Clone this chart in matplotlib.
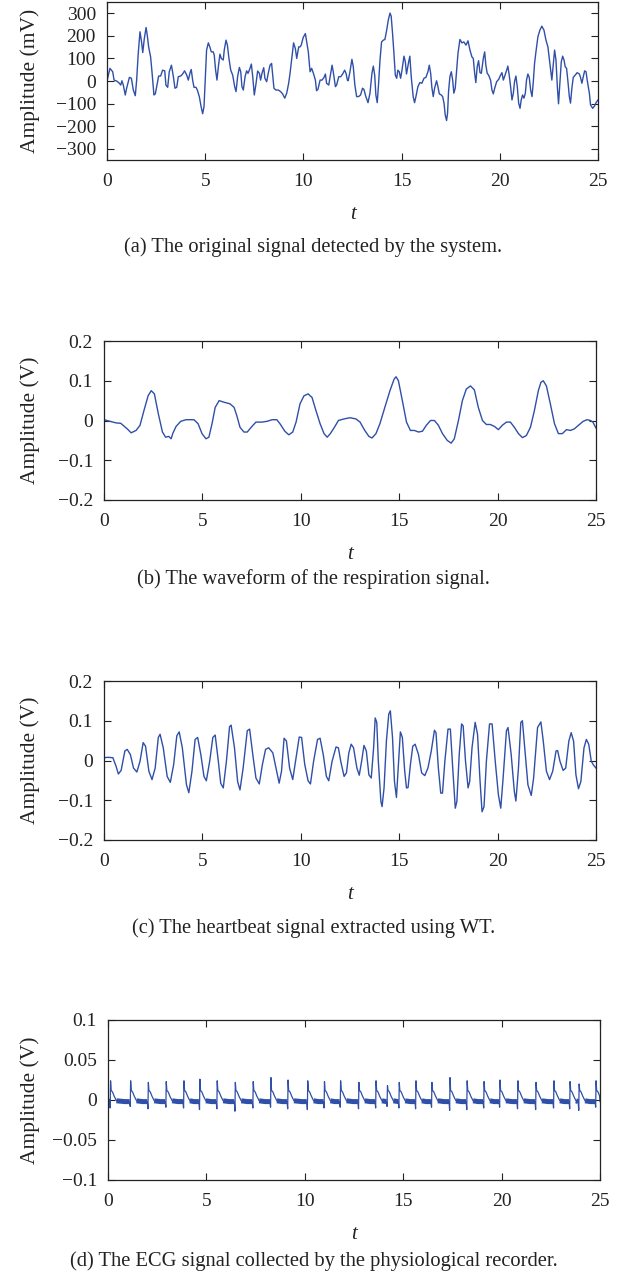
import numpy as np
import matplotlib
matplotlib.use("Agg")
import matplotlib.pyplot as plt

plt.rcParams['font.family'] = ['Liberation Serif', 'DejaVu Serif']

LINE = '#2f4fa8'

# (a) original signal, mV
t_a = [0.00, 0.15, 0.29, 0.36, 0.49, 0.63, 0.70, 0.76, 0.83, 0.93, 1.00, 1.14, 1.24, 1.34, 1.44,
       1.51, 1.59, 1.68, 1.76, 1.82, 1.90, 1.99, 2.05, 2.12, 2.22, 2.29, 2.39, 2.46, 2.56, 2.63,
       2.73, 2.83, 2.94, 3.00, 3.09, 3.17, 3.28, 3.38, 3.46, 3.55, 3.63, 3.75, 3.85, 3.95, 4.06,
       4.14, 4.23, 4.29, 4.36, 4.43, 4.53, 4.60, 4.70, 4.79, 4.87, 4.94, 5.01, 5.07, 5.16, 5.24,
       5.31, 5.41, 5.46, 5.53, 5.60, 5.67, 5.75, 5.82, 5.92, 5.97, 6.06, 6.13, 6.21, 6.30, 6.40,
       6.50, 6.57, 6.65, 6.74, 6.81, 6.87, 6.94, 7.03, 7.11, 7.18, 7.26, 7.35, 7.42, 7.50, 7.59,
       7.67, 7.76, 7.82, 7.89, 7.98, 8.04, 8.13, 8.21, 8.30, 8.38, 8.43, 8.50, 8.60, 8.72, 8.84,
       8.94, 9.05, 9.15, 9.25, 9.32, 9.42, 9.50, 9.59, 9.66, 9.76, 9.83, 9.89, 9.99, 10.10, 10.17,
       10.25, 10.34, 10.42, 10.51, 10.61, 10.67, 10.74, 10.85, 10.95, 11.05, 11.12, 11.18, 11.29,
       11.39, 11.46, 11.52, 11.63, 11.69, 11.80, 11.90, 12.00, 12.10, 12.17, 12.24,
       12.28, 12.37, 12.47, 12.54, 12.62, 12.71, 12.81, 12.91, 13.01, 13.08, 13.18, 13.29, 13.39,
       13.49, 13.56, 13.63, 13.69, 13.76, 13.83, 13.90, 13.98, 14.07, 14.15, 14.24, 14.32, 14.41,
       14.47, 14.54, 14.61, 14.68, 14.75, 14.81, 14.88, 14.95, 15.02, 15.12, 15.19, 15.25, 15.36,
       15.42, 15.49, 15.59, 15.66, 15.73, 15.83, 15.93, 16.03, 16.14, 16.24, 16.34, 16.41, 16.48,
       16.54, 16.61, 16.68, 16.78, 16.85, 16.92, 17.02, 17.09, 17.16, 17.22, 17.29, 17.34, 17.39,
       17.46, 17.53, 17.60, 17.66, 17.73, 17.80, 17.87, 17.97, 18.07, 18.17, 18.28, 18.38, 18.48,
       18.58, 18.65, 18.72, 18.78, 18.85, 18.92, 18.99, 19.06, 19.16, 19.23, 19.29, 19.36, 19.43,
       19.53, 19.60, 19.67, 19.74, 19.84, 19.94, 20.04, 20.11, 20.18, 20.24, 20.35, 20.41, 20.48,
       20.55, 20.62, 20.69, 20.75, 20.82, 20.89, 20.96, 21.03, 21.09, 21.16, 21.23, 21.30, 21.36,
       21.43, 21.50, 21.57, 21.64, 21.70, 21.77, 21.84, 21.94, 22.04, 22.14, 22.25, 22.35, 22.45,
       22.52, 22.59, 22.65, 22.72, 22.79, 22.86, 22.93, 22.99, 23.06, 23.13, 23.20, 23.27, 23.33,
       23.40, 23.47, 23.54, 23.60, 23.67, 23.74, 23.84, 23.94, 24.05, 24.11, 24.18, 24.25, 24.32,
       24.39, 24.45, 24.56, 24.62, 24.73, 24.83, 24.90, 25.00]
v_a = [0, 56, 41, 4, 0, -10, -18, 1, -18, -62, -32, 16, 12, -40, -65,
       4, 122, 218, 173, 126, 188, 237, 203, 151, 107, 41, -62, -57, -10, 22,
       22, 48, 45, -18, -28, 41, 70, 19, -32, -28, 19, 22, 31, 45, 26,
       4, 37, 51, 4, -28, -28, -40, -69, -113, -145, -113, 19, 137, 169, 150,
       129, 129, 115, 48, 4, 63, 119, 100, 93, 137, 181, 159, 100, 48, 26,
       -25, -47, 19, 60, 41, -25, -40, 19, 45, 34, 51, 75, 19, -62, -10,
       44, 34, 4, 34, 59, 12, -3, 34, 70, 78, 34, -32, -40, -40, -47,
       -57, -76, -54, -10, 34, 107, 169, 144, 100, 151, 151, 159, 193, 210, 173,
       129, 41, 56, 34, 4, -43, -37, 4, 4, 16, 31, -10, -18,
       34, 70, 41, -25, -18, 19, 19, 31, 48, 34, 4,
       1, 41, 96, 63, -18, -69, -69, -62, -32, -37, -69, -96, -54,
       34, 66, 26, -62, -96, -10, 93, 173, 181, 184, 225, 269, 301,
       287, 210, 122, 26, 12, 48, 41, 12, 48, 110, 85, 31, 85,
       110, 19, -69, -96, -69, -25, -7, -10, 12, 16, 41, 70, 34,
       -28, -69, -32, 1, -25, -57, -62, -69, -98, -150, -175, -143, -47,
       19, 41, 4, -54, -32, 48, 122, 184, 169, 173, 159, 178, 137,
       107, 100, 34, -7, 63, 90, 37, 34, 100, 129, 70, 34, 26,
       4, -40, -57, -32, -3, 7, 26, 37, 4, 19, 48, 66, 26,
       -25, -84, -54, -3, 22, -25, -98, -121, -84, -62, -76, -54, 4,
       31, 16, -40, -69, -10, 78, 129, 196, 225, 243, 225, 181, 151,
       100, 48, 4, 70, 137, 93, -25, -101, -10, 85, 110, 93, 63,
       56, -3, -69, -98, -32, 16, 26, 37, 31, 16, -10, 19, 45,
       41, 4, -54, -106, -121, -110, -96, -84]

# (b) respiration signal, V
t_b = [0.00, 0.30, 0.61, 0.85, 1.18, 1.38, 1.63, 1.83, 2.03, 2.24, 2.40, 2.56, 2.76, 2.97, 3.13,
       3.29, 3.41, 3.50, 3.66, 3.90, 4.17, 4.57, 4.78, 4.98, 5.18, 5.33, 5.49, 5.65, 5.85, 6.10,
       6.40, 6.61, 6.75, 6.91, 7.11, 7.28, 7.48, 7.72, 8.03, 8.29, 8.54, 8.78, 8.94, 9.19, 9.39,
       9.59, 9.76, 9.96, 10.16, 10.37, 10.57, 10.77, 10.98, 11.18, 11.34, 11.50, 11.71, 11.91,
       12.20, 12.50, 12.80, 13.01, 13.25, 13.46, 13.62, 13.82, 14.02, 14.27, 14.53, 14.74, 14.84,
       14.96, 15.16, 15.37, 15.57, 15.77, 15.98, 16.18, 16.38, 16.59, 16.79, 16.99, 17.20, 17.44,
       17.64, 17.80, 18.01, 18.21, 18.41, 18.62, 18.82, 19.02, 19.23, 19.43, 19.63, 19.84, 20.04,
       20.24, 20.45, 20.65, 20.85, 21.06, 21.26, 21.46, 21.67, 21.87, 22.07, 22.20, 22.32, 22.48,
       22.68, 22.89, 23.09, 23.29, 23.50, 23.70, 23.90, 24.11, 24.35, 24.55, 24.72, 24.84, 25.00]
v_b = [0.002, -0.002, -0.006, -0.007, -0.021, -0.031, -0.025, -0.012, 0.025, 0.062, 0.075, 0.067,
       0.017, -0.029, -0.042, -0.040, -0.046, -0.032, -0.015, -0.002, 0.002, 0.002, -0.008, -0.033,
       -0.046, -0.042, -0.008, 0.033, 0.050, 0.046, 0.042, 0.033, 0.012, -0.017, -0.029, -0.029,
       -0.017, -0.004, -0.004, -0.002, 0.002, 0.002, -0.008, -0.027, -0.036, -0.029, -0.004, 0.042,
       0.062, 0.067, 0.058, 0.025, -0.008, -0.033, -0.042, -0.033, -0.017, 0.000, 0.004, 0.007,
       0.004, -0.004, -0.025, -0.040, -0.044, -0.033, -0.008, 0.033, 0.075, 0.104, 0.110, 0.100,
       0.050, -0.004, -0.025, -0.025, -0.029, -0.027, -0.012, 0.000, 0.000, -0.012, -0.033, -0.050,
       -0.057, -0.046, 0.000, 0.050, 0.079, 0.087, 0.077, 0.033, 0.000, -0.010, -0.010, -0.015,
       -0.023, -0.012, -0.004, -0.004, -0.017, -0.033, -0.043, -0.038, -0.017, 0.025, 0.075, 0.096,
       0.100, 0.087, 0.042, -0.008, -0.033, -0.033, -0.023, -0.025, -0.021, -0.012, -0.002, 0.002,
       0.000, -0.004, -0.019]

# (c) heartbeat signal, V
t_c = [0.00, 0.20, 0.45, 0.61, 0.73, 0.87, 1.06, 1.18, 1.34, 1.50, 1.67, 1.83, 1.99, 2.11, 2.28,
       2.44, 2.60, 2.76, 2.85, 3.01, 3.21, 3.37, 3.54, 3.70, 3.82, 3.98, 4.19, 4.31, 4.47, 4.63,
       4.76, 4.92, 5.08, 5.20, 5.37, 5.53, 5.65, 5.81, 5.93, 6.06, 6.22, 6.38, 6.46, 6.63, 6.79,
       6.91, 7.07, 7.28, 7.40, 7.56, 7.72, 7.89, 8.05, 8.21, 8.37, 8.58, 8.74, 8.90, 9.02, 9.15,
       9.27, 9.43, 9.59, 9.76, 9.92, 10.04, 10.20, 10.37, 10.49, 10.65, 10.85, 10.98, 11.14, 11.30,
       11.42, 11.59, 11.79, 11.91, 12.03, 12.20, 12.32, 12.44, 12.56, 12.68, 12.85, 12.97, 13.09,
       13.21, 13.33, 13.46, 13.58, 13.70, 13.78, 13.86, 13.94, 14.07, 14.13, 14.23, 14.35, 14.47,
       14.55, 14.66, 14.76, 14.86, 14.96, 15.06, 15.16, 15.28, 15.37, 15.45, 15.57, 15.69, 15.81,
       15.98, 16.14, 16.30, 16.46, 16.63, 16.79, 16.87, 16.99, 17.11, 17.20, 17.32, 17.48, 17.60,
       17.72, 17.85, 17.93, 18.05, 18.17, 18.25, 18.37, 18.50, 18.58, 18.70, 18.86, 18.98, 19.11,
       19.21, 19.31, 19.43, 19.59, 19.72, 19.88, 20.04, 20.16, 20.28, 20.45, 20.53, 20.69, 20.85,
       20.93, 21.06, 21.18, 21.26, 21.38, 21.54, 21.71, 21.83, 22.03, 22.20, 22.32, 22.48, 22.64,
       22.80, 22.97, 23.05, 23.17, 23.33, 23.46, 23.62, 23.74, 23.86, 23.98, 24.11, 24.23, 24.39,
       24.51, 24.63, 24.76, 24.88, 25.00]
v_c = [0.007, 0.008, 0.007, -0.014, -0.034, -0.025, 0.024, 0.028, 0.015, -0.019, -0.029, -0.002,
       0.045, 0.036, -0.027, -0.048, -0.019, 0.058, 0.066, 0.032, -0.040, -0.055, -0.010, 0.062,
       0.072, 0.032, -0.061, -0.081, -0.027, 0.053, 0.058, 0.015, -0.040, -0.051, -0.002, 0.058,
       0.064, -0.002, -0.057, -0.069, -0.002, 0.085, 0.089, 0.032, -0.053, -0.074, -0.019, 0.075,
       0.079, 0.015, -0.044, -0.059, -0.010, 0.028, 0.032, 0.019, -0.019, -0.057, -0.027, 0.056,
       0.049, -0.019, -0.048, 0.007, 0.059, 0.058, -0.010, -0.051, -0.059, -0.002, 0.053, 0.056,
       0.015, -0.040, -0.051, -0.002, 0.034, 0.032, -0.002, -0.040, -0.031, 0.019, 0.041, 0.032,
       -0.019, -0.037, -0.002, 0.038, 0.024, -0.036, -0.044, 0.032, 0.107, 0.096, -0.002, -0.103,
       -0.116, -0.069, 0.049, 0.117, 0.125, 0.058, -0.053, -0.093, -0.010, 0.072, 0.058, -0.027,
       -0.069, -0.068, -0.010, 0.036, 0.041, 0.015, -0.031, -0.038, -0.019, 0.024, 0.076, 0.070,
       -0.019, -0.082, -0.082, -0.002, 0.079, 0.079, -0.019, -0.120, -0.103, 0.015, 0.092, 0.087,
       -0.002, -0.069, -0.053, 0.032, 0.096, 0.066, -0.053, -0.129, -0.116, -0.002, 0.092, 0.092,
       -0.002, -0.086, -0.120, -0.044, 0.075, 0.083, 0.015, -0.078, -0.102, -0.019, 0.096, 0.100,
       0.032, -0.061, -0.088, -0.044, 0.083, 0.097, 0.049, -0.027, -0.048, -0.027, 0.024, 0.025,
       -0.002, -0.025, -0.019, 0.049, 0.070, 0.049, -0.036, -0.071, -0.053, 0.032, 0.053, 0.041,
       -0.002, -0.012, -0.019]

# (d) ECG: beat times, R-peak heights, S dips, and one beat's shape
beat_t = [0.13, 1.15, 2.05, 2.96, 3.86, 4.67, 5.55, 6.47, 7.38, 8.28, 9.15, 10.15, 11.00, 11.82,
          12.75, 13.62, 14.20, 14.80, 15.65, 16.46, 17.38, 18.25, 19.11, 19.92, 20.83, 21.75,
          22.66, 23.48, 23.94, 24.80]
beat_r = [0.024, 0.024, 0.022, 0.023, 0.024, 0.026, 0.024, 0.022, 0.023, 0.028, 0.025, 0.024,
          0.023, 0.024, 0.022, 0.024, 0.018, 0.022, 0.024, 0.022, 0.028, 0.024, 0.023, 0.025,
          0.024, 0.022, 0.024, 0.023, 0.020, 0.024]
beat_s = [-0.010, -0.008, -0.011, -0.009, -0.010, -0.012, -0.011, -0.014, -0.010, -0.009, -0.011,
          -0.012, -0.010, -0.009, -0.011, -0.010, -0.008, -0.010, -0.011, -0.009, -0.013, -0.012,
          -0.010, -0.009, -0.011, -0.012, -0.010, -0.011, -0.013, -0.009]
shape_dt = [-0.30, -0.05, -0.02, 0.00, 0.03, 0.10, 0.18, 0.30]
shape_v = [-0.002, -0.002, None, None, 0.012, 0.010, 0.005, -0.001]

t_d, v_d = [0.0], [-0.001]
for tb, r, s in zip(beat_t, beat_r, beat_s):
    for dt, sv in zip(shape_dt, shape_v):
        tt = tb + dt
        if tt < 0 or tt > 25 or tt <= t_d[-1]:
            continue
        if dt == -0.02:
            sv = s
        elif dt == 0.0:
            sv = r
        t_d.append(tt)
        v_d.append(sv)
t_d.append(25.0)
v_d.append(-0.002)
t_d, v_d = np.array(t_d), np.array(v_d)

panels = [
    dict(t=t_a, v=v_a, ylim=(-350, 350), yticks=[-300, -200, -100, 0, 100, 200, 300],
         ylabels=['\u2212300', '\u2212200', '\u2212100', '0', '100', '200', '300'],
         ylabel='Amplitude (mV)', rect=[107, 2, 598, 160],
         caption='(a) The original signal detected by the system.', cap_y=247),
    dict(t=t_b, v=v_b, ylim=(-0.2, 0.2), yticks=[-0.2, -0.1, 0, 0.1, 0.2],
         ylabels=['\u22120.2', '\u22120.1', '0', '0.1', '0.2'],
         ylabel='Amplitude (V)', rect=[104, 341, 596, 500],
         caption='(b) The waveform of the respiration signal.', cap_y=579),
    dict(t=t_c, v=v_c, ylim=(-0.2, 0.2), yticks=[-0.2, -0.1, 0, 0.1, 0.2],
         ylabels=['\u22120.2', '\u22120.1', '0', '0.1', '0.2'],
         ylabel='Amplitude (V)', rect=[104, 681, 596, 840],
         caption='(c) The heartbeat signal extracted using WT.', cap_y=928),
    dict(t=t_d, v=v_d, ylim=(-0.1, 0.1), yticks=[-0.1, -0.05, 0, 0.05, 0.1],
         ylabels=['\u22120.1', '\u22120.05', '0', '0.05', '0.1'],
         ylabel='Amplitude (V)', rect=[108, 1020, 600, 1180],
         caption='(d) The ECG signal collected by the physiological recorder.', cap_y=1261),
]

W, H = 627, 1278
fig = plt.figure(figsize=(W / 100, H / 100), dpi=100)

for i, p in enumerate(panels):
    x0, y0, x1, y1 = p['rect']
    ax = fig.add_axes([x0 / W, 1 - y1 / H, (x1 - x0) / W, (y1 - y0) / H])
    if i == 3:
        band = np.where(np.abs(p['v']) < 0.004, p['v'], np.nan)
        ax.plot(p['t'], band, color=LINE, lw=3.6, solid_capstyle='butt')
        ax.plot(p['t'], p['v'], color=LINE, lw=0.9)
    else:
        ax.plot(p['t'], p['v'], color=LINE, lw=1.0)
    ax.set_xlim(0, 25)
    ax.set_ylim(*p['ylim'])
    ax.set_xticks([0, 5, 10, 15, 20, 25])
    ax.set_yticks(p['yticks'])
    ax.set_yticklabels(p['ylabels'])
    ax.tick_params(direction='in', top=True, right=True, length=5, width=0.8,
                   labelsize=14, colors='#222222')
    ax.tick_params(axis='x', pad=9.5)
    ax.tick_params(axis='y', pad=8)
    for sp in ax.spines.values():
        sp.set_linewidth(0.9)
        sp.set_color('#222222')
    ax.set_xlabel('t', fontstyle='italic', fontsize=15, labelpad=11, color='#222222')
    ax.set_ylabel(p['ylabel'], fontsize=15.5, color='#222222')
    ax.yaxis.set_label_coords((40 - x0) / (x1 - x0), 0.5)
    fig.text(0.5, 1 - p['cap_y'] / H, p['caption'], ha='center', va='center',
             fontsize=14.8, color='#222222')

fig.savefig('out.png', dpi=100)
